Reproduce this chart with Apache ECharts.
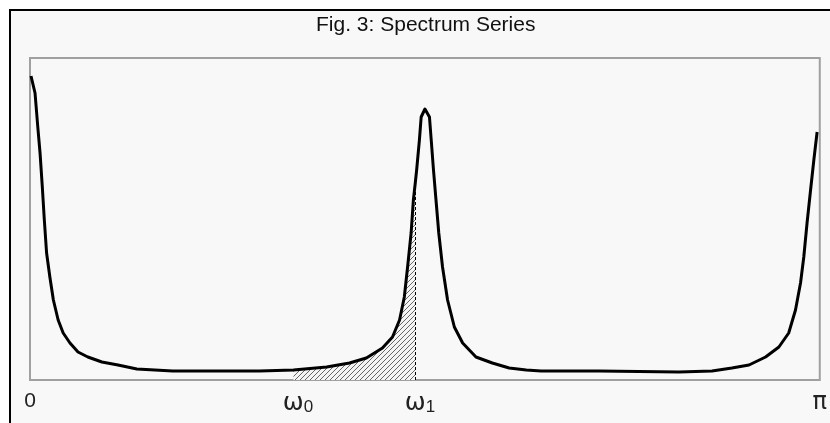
<!DOCTYPE html>
<html><head><meta charset="utf-8">
<script src="https://cdn.jsdelivr.net/npm/echarts@6/dist/echarts.min.js"></script>
<style>html,body{margin:0;padding:0;background:#fff}#c{width:830px;height:423px}</style>
</head><body><div id="c"></div>
<script>
// frequency (radians, 0..π)
const omega = [0.004, 0.020, 0.031, 0.040, 0.049, 0.057, 0.066, 0.079, 0.093, 0.112,
  0.132, 0.159, 0.191, 0.230, 0.286, 0.350, 0.425, 0.568, 0.755, 0.913,
  1.048, 1.180, 1.271, 1.338, 1.402, 1.442, 1.470, 1.489, 1.502, 1.516,
  1.525, 1.533, 1.538, 1.549, 1.556, 1.571, 1.589, 1.596, 1.605, 1.615,
  1.626, 1.641, 1.661, 1.688, 1.721, 1.774, 1.839, 1.906, 1.974, 2.033,
  2.264, 2.581, 2.713, 2.792, 2.860, 2.926, 2.979, 3.018, 3.045, 3.065,
  3.078, 3.091, 3.105, 3.118, 3.131];
// spectral density (arbitrary units)
const density = [304, 287, 253, 227, 193, 160, 127, 103, 80, 60,
  47, 37, 28, 23, 18, 15, 11, 9, 9, 9,
  10, 13, 17, 22, 32, 43, 60, 83, 113, 147,
  180, 198, 210, 240, 263, 271, 263, 240, 210, 180,
  147, 113, 80, 53, 37, 23, 17, 12, 10, 9,
  9, 8, 9, 12, 15, 23, 33, 47, 70, 97,
  123, 157, 190, 220, 248];
const omega0 = 1.048;
const omega1 = 1.533;
const tickValues = [0, omega0, omega1, Math.PI];
const tickLabels = ['{n|0}', '{p| }{w|ω}{s|0}', '{p| }{w|ω}{s|1}', '{g|π}'];
const titleText = 'Fig. 3: Spectrum Series';

const curve = omega.map((w, i) => [w, density[i]]);
const shaded = curve.filter(d => d[0] >= omega0 - 1e-9 && d[0] <= omega1 + 1e-9);
const v1 = density[omega.indexOf(omega1)];

const tile = document.createElement('canvas');
tile.width = 5; tile.height = 5;
const tc = tile.getContext('2d');
tc.fillStyle = '#f4f4f4'; tc.fillRect(0, 0, 5, 5);
tc.strokeStyle = '#666'; tc.lineWidth = 1;
tc.beginPath();
tc.moveTo(-1, 6); tc.lineTo(6, -1);
tc.moveTo(-1, 1); tc.lineTo(1, -1);
tc.moveTo(4, 6); tc.lineTo(6, 4);
tc.stroke();

const chart = echarts.init(document.getElementById('c'), null, {renderer: 'canvas'});
chart.setOption({
  animation: false,
  backgroundColor: '#ffffff',
  title: {
    text: titleText, left: 316, top: 15, padding: 0,
    textStyle: {fontFamily: 'Liberation Sans', fontSize: 21, fontWeight: 'normal', color: '#111'}
  },
  graphic: [
    {type: 'rect', z: -100, shape: {x: 10, y: 10, width: 820, height: 413}, style: {fill: '#f8f8f8'}},
    {type: 'line', z: 100, shape: {x1: 9, y1: 10, x2: 830, y2: 10}, style: {stroke: '#000', lineWidth: 2}},
    {type: 'line', z: 100, shape: {x1: 10, y1: 9, x2: 10, y2: 423}, style: {stroke: '#000', lineWidth: 2}}
  ],
  grid: {left: 30, right: 9, top: 58, bottom: 43, show: true, borderColor: '#a0a0a0', borderWidth: 2, backgroundColor: 'transparent'},
  xAxis: {
    type: 'value', min: 0, max: Math.PI,
    axisLine: {show: false}, axisTick: {show: false}, splitLine: {show: false},
    axisLabel: {
      customValues: tickValues,
      margin: 11,
      formatter: v => { const i = tickValues.findIndex(t => Math.abs(t - v) < 1e-6); return i >= 0 ? tickLabels[i] : ''; },
      rich: {
        n: {fontFamily: 'Liberation Sans', fontSize: 21, color: '#222'},
        g: {fontFamily: 'DejaVu Sans', fontSize: 24, color: '#222'},
        w: {fontFamily: 'DejaVu Sans', fontSize: 25, color: '#222'},
        s: {fontFamily: 'Liberation Sans', fontSize: 17, color: '#222', verticalAlign: 'bottom', padding: [8, 0, 0, 0]},
        p: {width: 9, fontSize: 10}
      }
    }
  },
  yAxis: {type: 'value', min: 0, max: 322, show: false, splitLine: {show: false}},
  series: [
    {
      type: 'line', data: shaded, showSymbol: false, silent: true, z: 1,
      lineStyle: {width: 0, opacity: 0},
      areaStyle: {color: {image: tile, repeat: 'repeat'}, opacity: 1},
      markLine: {
        silent: true, symbol: ['none', 'none'], label: {show: false},
        lineStyle: {type: [3, 2], color: '#000', width: 1},
        data: [[{coord: [omega1, 0]}, {coord: [omega1, v1]}]]
      }
    },
    {
      type: 'line', data: curve, showSymbol: false, silent: true, z: 3,
      lineStyle: {color: '#000', width: 3, join: 'round'}
    }
  ]
});
</script></body></html>
